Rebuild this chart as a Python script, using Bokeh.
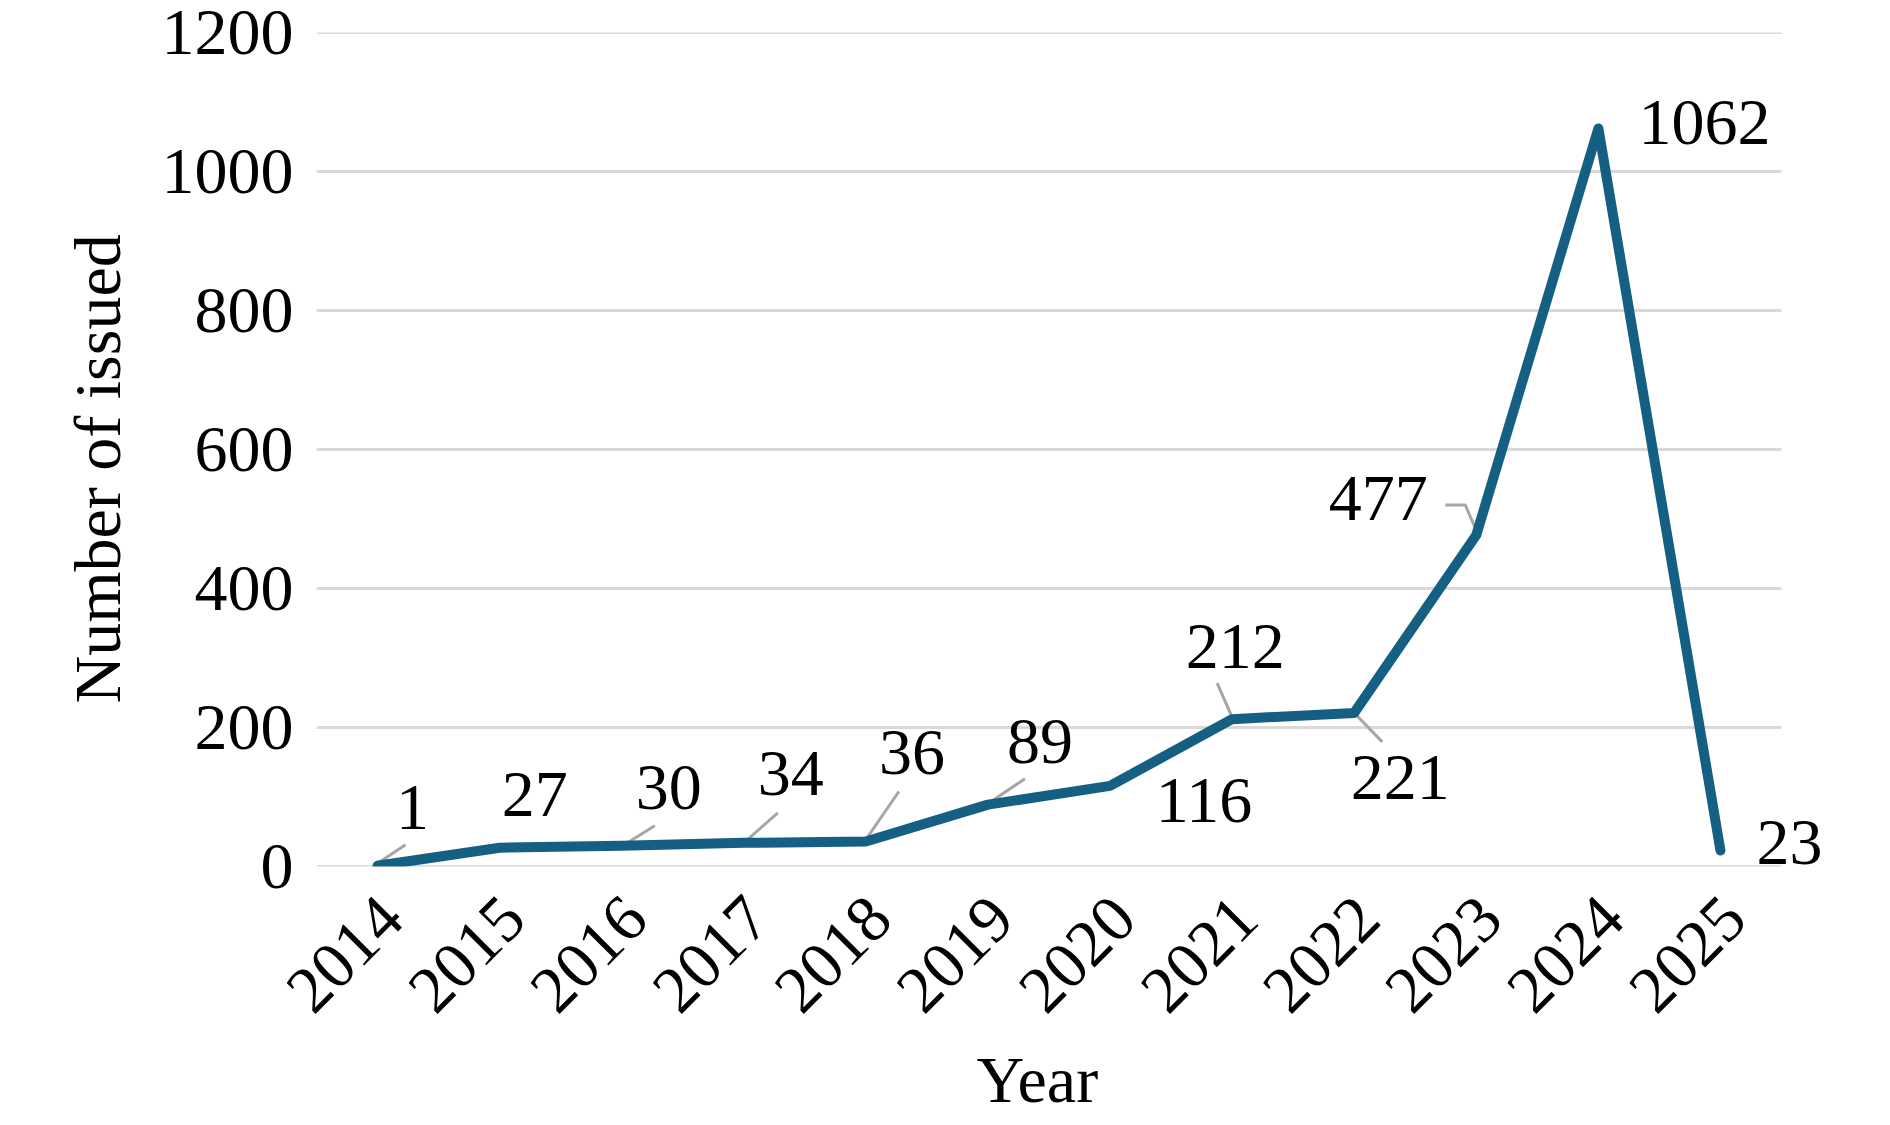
import math
from bokeh.plotting import figure
from bokeh.models import (Range1d, FixedTicker, ColumnDataSource, LabelSet,
                          CustomJSTickFormatter, Title)
from bokeh.embed import file_html
from bokeh.resources import INLINE

# ---- data ----
years = ["2014", "2015", "2016", "2017", "2018", "2019",
         "2020", "2021", "2022", "2023", "2024", "2025"]
issued = [1, 27, 30, 34, 36, 89, 116, 212, 221, 477, 1062, 23]
y_ticks = [0, 200, 400, 600, 800, 1000, 1200]
x_title = "Year"
y_title = "Number of issued"

# ---- layout ----
W, H = 1874, 1121
BL, BR, BT, BB = 316, 34, 32, 255
AREA_W = 1465           # width of the plotted area (gridlines)
FONT = "Liberation Serif"
FS = "66px"
LINE_COLOR = "#156082"
GRID_COLOR = "#d9d9d9"

xs = list(range(len(years)))
x0 = -0.5
x_grid_end = len(years) - 0.5
px_x = AREA_W / (x_grid_end - x0)
x1 = x0 + (W - BL - BR) / px_x
y0, y1 = 0, 1200
px_y = (H - BT - BB) / (y1 - y0)

# label offsets in screen px (dy positive = down)
label_dx = [35, 35, 47, 47, 46, 52, 94, 3, 46, -98, 106, 69]
label_dy = [-58, -53, -58, -69, -89, -63, 15, -73, 65, -36, -6, -8]
# leader lines in screen px offsets relative to the point
leaders = {
    0: [(28, -21), (1, -3)],
    2: [(33, -20), (1, 0)],
    3: [(34, -30), (0, 0)],
    4: [(33, -50), (0, -2)],
    5: [(37, -26), (0, -1)],
    7: [(-15, -36), (0, -2)],
    8: [(0, 0), (28, 29)],
    9: [(-31, -30), (-11, -30), (1, -2)],
}
TICK_SHIFT = 14 / px_x

p = figure(width=W, height=H, output_backend="svg", toolbar_location=None,
           x_range=Range1d(x0, x1), y_range=Range1d(y0, y1),
           min_border_left=BL, min_border_right=BR,
           min_border_top=BT, min_border_bottom=BB)
p.outline_line_color = None
p.background_fill_color = "white"
p.border_fill_color = "white"
p.xgrid.grid_line_color = None
p.ygrid.grid_line_color = None

# horizontal gridlines limited to the plot area
p.segment(x0=[x0] * len(y_ticks), y0=y_ticks,
          x1=[x_grid_end] * len(y_ticks), y1=y_ticks,
          line_color=GRID_COLOR, line_width=3)

p.yaxis.ticker = FixedTicker(ticks=y_ticks)
p.xaxis.ticker = FixedTicker(ticks=[i + TICK_SHIFT for i in xs])
p.xaxis.formatter = CustomJSTickFormatter(
    args=dict(years=years, shift=TICK_SHIFT),
    code="return years[Math.round(tick - shift)];")
p.xaxis.major_label_orientation = math.pi / 4

for ax in (p.xaxis[0], p.yaxis[0]):
    ax.axis_line_color = None
    ax.major_tick_line_color = None
    ax.minor_tick_line_color = None
    ax.major_label_text_font = FONT
    ax.major_label_text_font_size = FS
    ax.major_label_text_color = "black"

p.yaxis.major_label_standoff = 17
p.xaxis.major_label_standoff = 35

# axis titles
xt = Title(text=x_title, align="left", offset=660, text_font=FONT,
           text_font_size=FS, text_font_style="normal", text_color="black",
           standoff=12)
p.add_layout(xt, "below")
yt = Title(text=y_title, align="left", offset=163, text_font=FONT,
           text_font_size=FS, text_font_style="normal", text_color="black",
           standoff=50)
p.add_layout(yt, "left")

# leader lines
lx, ly = [], []
for i, pts in leaders.items():
    lx.append([xs[i] + dx / px_x for dx, dy in pts])
    ly.append([issued[i] - dy / px_y for dx, dy in pts])
p.multi_line(lx, ly, line_color="#a6a6a6", line_width=3)

# main line
p.line(xs, issued, line_color=LINE_COLOR, line_width=10,
       line_cap="round", line_join="round")

src = ColumnDataSource(dict(x=xs, y=issued, t=[str(v) for v in issued],
                            ox=label_dx, oy=[-d for d in label_dy]))
labels = LabelSet(x="x", y="y", text="t", x_offset="ox", y_offset="oy",
                  source=src, text_align="center", text_baseline="middle",
                  text_font=FONT, text_font_size=FS, text_color="black")
p.add_layout(labels)

open("out.html", "w").write(file_html(p, INLINE))
